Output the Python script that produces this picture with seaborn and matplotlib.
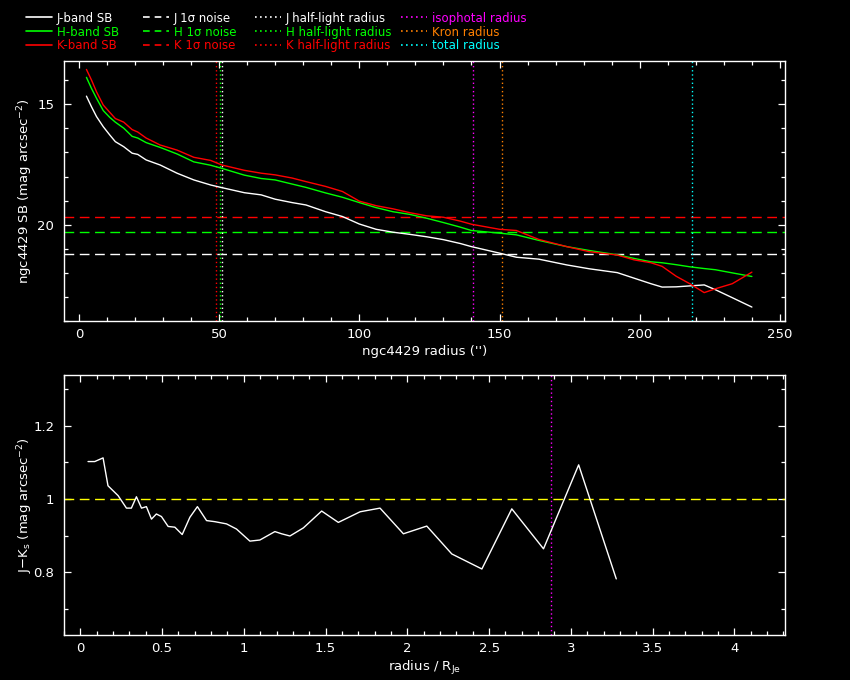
import numpy as np
import pandas as pd
import matplotlib
matplotlib.use("Agg")
import matplotlib.pyplot as plt
import seaborn as sns
from matplotlib.ticker import MultipleLocator, FuncFormatter
from matplotlib.lines import Line2D

# ---------------- data ----------------
radius = [2.7, 4.5, 6.3, 8.7, 11, 13, 16, 19, 21, 24, 29, 35, 41, 47, 51, 59, 65, 70,
          76, 81, 88, 94, 100, 106, 112, 118, 124, 130, 136, 140, 150, 156, 164, 174,
          182, 192, 198, 204, 208, 213, 218, 223, 227, 233, 240]
sb_j = [14.66, 15.10, 15.51, 15.93, 16.27, 16.55, 16.76, 17.03, 17.08, 17.31, 17.52,
        17.86, 18.14, 18.35, 18.46, 18.67, 18.76, 18.94, 19.08, 19.18, 19.46, 19.66,
        19.97, 20.19, 20.31, 20.40, 20.50, 20.62, 20.78, 20.91, 21.18, 21.35, 21.43,
        21.67, 21.83, 21.99, 22.22, 22.45, 22.59, 22.58, 22.54, 22.50, 22.70, 23.03, 23.42]
sb_h = [13.88, 14.34, 14.75, 15.26, 15.54, 15.74, 15.99, 16.33, 16.40, 16.59, 16.79,
        17.06, 17.39, 17.53, 17.66, 17.94, 18.08, 18.14, 18.31, 18.45, 18.68, 18.86,
        19.08, 19.29, 19.46, 19.57, 19.73, 19.91, 20.10, 20.24, 20.35, 20.42, 20.65,
        20.91, 21.07, 21.25, 21.40, 21.54, 21.58, 21.66, 21.75, 21.82, 21.87, 22.00, 22.15]
sb_k = [13.55, 13.99, 14.48, 15.03, 15.33, 15.59, 15.74, 16.05, 16.15, 16.40, 16.69,
        16.90, 17.20, 17.33, 17.52, 17.74, 17.86, 17.93, 18.06, 18.21, 18.41, 18.62,
        19.02, 19.21, 19.34, 19.50, 19.63, 19.69, 19.85, 19.98, 20.19, 20.24, 20.61,
        20.91, 21.12, 21.26, 21.46, 21.58, 21.73, 22.14, 22.46, 22.82, 22.66, 22.45, 21.97]

bands = ["J", "H", "K"]
noise_levels = [21.2, 20.3, 19.67]          # J, H, K 1-sigma noise
halflight_radii = [51.2, 50.4, 49.0]        # J, H, K half-light radius
aperture_names = ["isophotal radius", "Kron radius", "total radius"]
aperture_radii = [140.6, 151.0, 218.7]

r_norm = [0.047, 0.088, 0.139, 0.169, 0.231, 0.282, 0.312, 0.343, 0.374, 0.404, 0.435,
          0.465, 0.496, 0.537, 0.578, 0.623, 0.670, 0.716, 0.772, 0.823, 0.894, 0.955,
          1.037, 1.098, 1.190, 1.231, 1.282, 1.364, 1.476, 1.578, 1.711, 1.833, 1.976,
          2.119, 2.272, 2.456, 2.639, 2.833, 3.048, 3.278]
j_minus_k = [1.102, 1.102, 1.112, 1.036, 1.009, 0.975, 0.975, 1.006, 0.975, 0.979, 0.945,
             0.959, 0.952, 0.925, 0.923, 0.903, 0.950, 0.979, 0.941, 0.938, 0.932, 0.918,
             0.885, 0.888, 0.911, 0.905, 0.899, 0.921, 0.967, 0.936, 0.965, 0.975, 0.905,
             0.926, 0.850, 0.809, 0.973, 0.864, 1.093, 0.782]
color_ref = 1.0
iso_radius_norm = 2.878

# ---------------- style ----------------
band_colors = {"J": "#ffffff", "H": "#00ff00", "K": "#ff0000"}
aper_colors = ["#ff00ff", "#ff8000", "#00ffff"]

sns.set_theme(style="ticks")
plt.rcParams.update({
    "figure.facecolor": "black", "axes.facecolor": "black", "savefig.facecolor": "black",
    "axes.edgecolor": "white", "axes.linewidth": 1.0, "axes.grid": False,
    "text.color": "white", "axes.labelcolor": "white",
    "xtick.color": "white", "ytick.color": "white",
    "xtick.direction": "in", "ytick.direction": "in",
    "xtick.top": True, "ytick.right": True,
    "xtick.major.size": 5, "ytick.major.size": 5,
    "xtick.minor.size": 2.6, "ytick.minor.size": 2.6,
    "xtick.major.width": 0.9, "ytick.major.width": 0.9,
    "xtick.minor.width": 0.9, "ytick.minor.width": 0.9,
    "xtick.minor.visible": True, "ytick.minor.visible": True,
    "font.size": 9.5, "xtick.labelsize": 9.5, "ytick.labelsize": 9.5,
    "axes.labelsize": 9.5,
})
plt.rcParams["font.family"] = ["DejaVu Sans"]

fig = plt.figure(figsize=(8.5, 6.8), dpi=100)
ax1 = fig.add_axes([0.0753, 0.5279, 0.8482, 0.3824])
ax2 = fig.add_axes([0.0753, 0.0662, 0.8482, 0.3823])

fmt = FuncFormatter(lambda v, p: "%g" % round(v, 6))

# ---------------- top panel ----------------
df_sb = pd.DataFrame({
    "radius": radius * 3,
    "sb": sb_j + sb_h + sb_k,
    "band": ["J"] * len(radius) + ["H"] * len(radius) + ["K"] * len(radius),
})
sns.lineplot(data=df_sb, x="radius", y="sb", hue="band", palette=band_colors,
             estimator=None, sort=False, linewidth=1.0, legend=False, ax=ax1, zorder=3)

for b, lev in zip(bands, noise_levels):
    ax1.axhline(lev, color=band_colors[b], lw=1.0, dashes=(7, 4), zorder=2)
for b, rh in zip(bands, halflight_radii):
    ax1.axvline(rh, color=band_colors[b], lw=1.0, dashes=(1, 2), zorder=2)
for c, ra in zip(aper_colors, aperture_radii):
    ax1.axvline(ra, color=c, lw=1.0, dashes=(1, 2), zorder=2)

ax1.set_xlim(-5.3, 251.8)
ax1.set_ylim(24.0, 13.2)
ax1.xaxis.set_major_locator(MultipleLocator(50))
ax1.xaxis.set_minor_locator(MultipleLocator(10))
ax1.yaxis.set_major_locator(MultipleLocator(5))
ax1.yaxis.set_minor_locator(MultipleLocator(1))
ax1.xaxis.set_major_formatter(fmt)
ax1.yaxis.set_major_formatter(fmt)
ax1.tick_params(axis="x", pad=5)
ax1.tick_params(axis="y", pad=7)
ax1.set_xlabel("ngc4429 radius ('')", labelpad=3)
ax1.set_ylabel("ngc4429 SB (mag arcsec$^{-2}$)")
ax1.yaxis.set_label_coords(-0.040, 0.5)

# ---------------- bottom panel ----------------
df_col = pd.DataFrame({"rn": r_norm, "jk": j_minus_k})
sns.lineplot(data=df_col, x="rn", y="jk", color="white", estimator=None, sort=False,
             linewidth=1.0, ax=ax2, zorder=3)
ax2.axhline(color_ref, color="#ffff00", lw=1.0, dashes=(7, 4), zorder=2)
ax2.axvline(iso_radius_norm, color=aper_colors[0], lw=1.0, dashes=(1, 2), zorder=2)
ax2.set_xlim(-0.1, 4.31)
ax2.set_ylim(0.629, 1.338)
ax2.xaxis.set_major_locator(MultipleLocator(0.5))
ax2.xaxis.set_minor_locator(MultipleLocator(0.1))
ax2.yaxis.set_major_locator(MultipleLocator(0.2))
ax2.yaxis.set_minor_locator(MultipleLocator(0.1))
ax2.xaxis.set_major_formatter(fmt)
ax2.yaxis.set_major_formatter(fmt)
ax2.tick_params(axis="x", pad=5)
ax2.tick_params(axis="y", pad=7)
ax2.set_xlabel("radius / R$_{\\rm Je}$", labelpad=3)
ax2.set_ylabel("J$-$K$_{\\rm s}$ (mag arcsec$^{-2}$)")
ax2.yaxis.set_label_coords(-0.040, 0.5)

for ax in (ax1, ax2):
    for s in ax.spines.values():
        s.set_color("white")

# ---------------- legend (four columns) ----------------
col_handles = [[], [], [], []]
col_labels = [[], [], [], []]
for b in bands:
    col_handles[0].append(Line2D([], [], color=band_colors[b], lw=1.2))
    col_labels[0].append(f"{b}-band SB")
    col_handles[1].append(Line2D([], [], color=band_colors[b], lw=1.2, dashes=(4, 3)))
    col_labels[1].append(f"{b} 1σ noise")
    col_handles[2].append(Line2D([], [], color=band_colors[b], lw=1.2, dashes=(1, 2)))
    col_labels[2].append(f"{b} half-light radius")
for c, n in zip(aper_colors, aperture_names):
    col_handles[3].append(Line2D([], [], color=c, lw=1.2, dashes=(1, 2)))
    col_labels[3].append(n)

col_x = [26 / 850, 143 / 850, 255 / 850, 401 / 850]
for hs, ls, x0 in zip(col_handles, col_labels, col_x):
    fig.legend(hs, ls, loc="upper left", bbox_to_anchor=(x0, 0.983),
               frameon=False, fontsize=8.5, handlelength=2.2, handletextpad=0.4,
               labelspacing=0.08, borderpad=0, borderaxespad=0,
               labelcolor="linecolor")

fig.savefig("out.png", dpi=100, facecolor="black")
